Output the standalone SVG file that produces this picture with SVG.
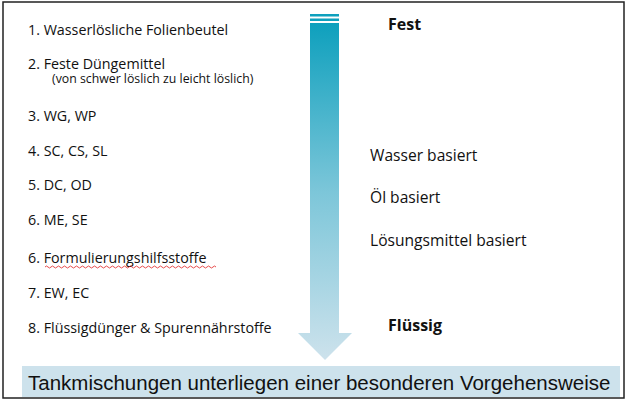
<svg xmlns="http://www.w3.org/2000/svg" width="628" height="405" viewBox="0 0 628 405">
<defs>
<linearGradient id="g" x1="0" y1="0" x2="0" y2="1">
<stop offset="0" stop-color="#0ea0bd"/>
<stop offset="0.5" stop-color="#7cc6d9"/>
<stop offset="1" stop-color="#cde2ec"/>
</linearGradient>
</defs>
<style>
.t{font-family:"Open Sans","Noto Sans",sans-serif;font-size:14.3px;fill:#111}
.s{font-family:"Open Sans","Noto Sans",sans-serif;font-size:12.3px;fill:#111}
.r{font-family:"Open Sans","Noto Sans",sans-serif;font-size:15.6px;fill:#111}
.b{font-family:"Open Sans","Noto Sans",sans-serif;font-size:16px;font-weight:bold;fill:#111}
</style>
<rect width="628" height="405" fill="#fff"/>
<rect x="3" y="2" width="621" height="396" fill="none" stroke="#222" stroke-width="1.5"/>
<g id="arrow">
<rect x="310" y="14" width="29" height="2.5" fill="#0ea0bd"/>
<rect x="310" y="18.5" width="29" height="2.5" fill="#0ea0bd"/>
<path d="M310 23 H339 V333 H352 L325 360 L298 333 H310 Z" fill="url(#g)"/>
</g>
<g id="list">
<text class="t" x="28" y="35">1. Wasserlösliche Folienbeutel</text>
<text class="t" x="28" y="69">2. Feste Düngemittel</text>
<text class="s" x="52" y="83">(von schwer löslich zu leicht löslich)</text>
<text class="t" x="28" y="121">3. WG, WP</text>
<text class="t" x="28" y="156">4. SC, CS, SL</text>
<text class="t" x="28" y="190">5. DC, OD</text>
<text class="t" x="28" y="225">6. ME, SE</text>
<text class="t" x="28" y="263">6. Formulierungshilfsstoffe</text>
<path d="M45 267 q1.5 -2 3 0 t3 0 t3 0 t3 0 t3 0 t3 0 t3 0 t3 0 t3 0 t3 0 t3 0 t3 0 t3 0 t3 0 t3 0 t3 0 t3 0 t3 0 t3 0 t3 0 t3 0 t3 0 t3 0 t3 0 t3 0 t3 0 t3 0 t3 0 t3 0 t3 0 t3 0 t3 0 t3 0 t3 0 t3 0 t3 0 t3 0 t3 0 t3 0 t3 0 t3 0 t3 0 t3 0 t3 0 t3 0 t3 0 t3 0 t3 0 t3 0 t3 0 t3 0 t3 0 t3 0 t3 0 t3 0 t3 0 t3 0" fill="none" stroke="#e02020" stroke-width="0.8"/>
<text class="t" x="28" y="298">7. EW, EC</text>
<text class="t" x="28" y="333">8. Flüssigdünger &amp; Spurennährstoffe</text>
</g>
<g id="labels">
<text class="b" x="388" y="30">Fest</text>
<text class="r" x="370" y="161">Wasser basiert</text>
<text class="r" x="370" y="203">Öl basiert</text>
<text class="r" x="370" y="246">Lösungsmittel basiert</text>
<text class="b" x="388" y="331">Flüssig</text>
</g>
<g id="footer">
<rect x="22" y="366" width="598" height="31" fill="#cde2ec"/>
<text x="28" y="390" font-family="Liberation Sans, Arial, sans-serif" font-size="20.5" fill="#111">Tankmischungen unterliegen einer besonderen Vorgehensweise</text>
</g>
</svg>
